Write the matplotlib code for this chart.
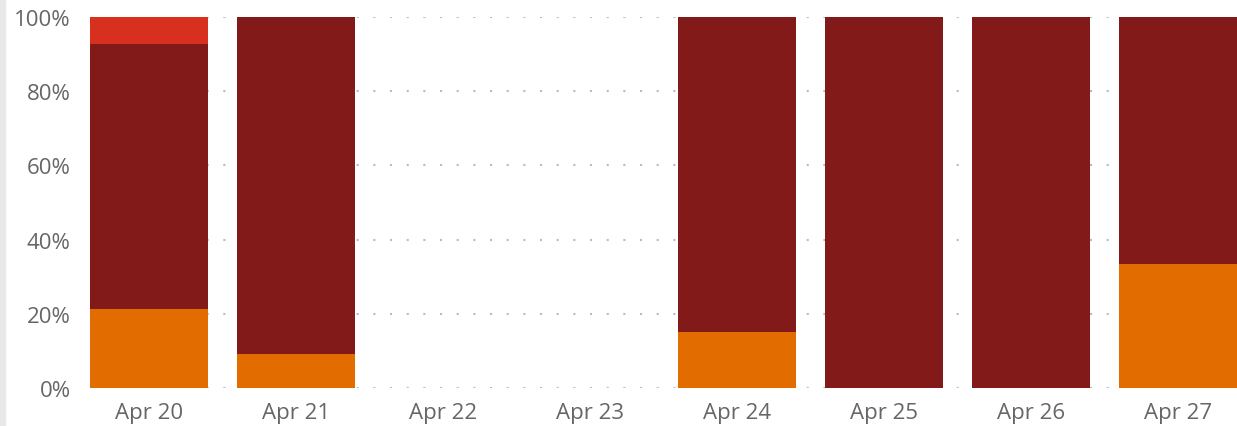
import numpy as np
import matplotlib
matplotlib.use("Agg")
import matplotlib.pyplot as plt
from matplotlib.patches import Rectangle

days = ["Apr 20", "Apr 21", "Apr 22", "Apr 23", "Apr 24", "Apr 25", "Apr 26", "Apr 27"]
# percent share per day, bottom to top
orange = [21.4, 9.2, 0, 0, 15.1, 0, 0, 33.4]
darkred = [71.3, 90.8, 0, 0, 84.9, 100, 100, 66.6]
red = [7.3, 0, 0, 0, 0, 0, 0, 0]

plt.rcParams['font.family'] = ['Open Sans', 'DejaVu Sans']

fig = plt.figure(figsize=(12.37, 4.27), dpi=100)
ax = fig.add_axes([90 / 1237, 1 - 389 / 427, 1 - 90 / 1237, (389 - 18) / 427])

x = np.arange(len(days))
o = np.array(orange) / 100
d = np.array(darkred) / 100
r = np.array(red) / 100
ax.bar(x, o, width=0.8, color="#E36C00", zorder=3)
ax.bar(x, d, width=0.8, bottom=o, color="#821A1A", zorder=3)
ax.bar(x, r, width=0.8, bottom=o + d, color="#D7301F", zorder=3)

ax.set_xlim(-0.4, 7.4)
ax.set_ylim(0, 1)
ax.set_yticks(np.arange(0, 1.01, 0.2))
ax.set_yticklabels([f"{int(v)}%" for v in np.arange(0, 101, 20)])
ax.set_xticks(x)
ax.set_xticklabels(days)
ax.tick_params(length=0, labelsize=16, labelcolor="#666666")
ax.tick_params(axis="y", pad=14)
ax.tick_params(axis="x", pad=10)
ax.grid(axis="y", color="#bbbbbb", linestyle=(0, (1, 7)), linewidth=1.5, zorder=0)
for s in ax.spines.values():
    s.set_visible(False)

fig.patches.append(Rectangle((0, 0), 5 / 1237, 1, transform=fig.transFigure,
                             color="#e8e8e8", zorder=0))

fig.savefig("out.png", dpi=100)
